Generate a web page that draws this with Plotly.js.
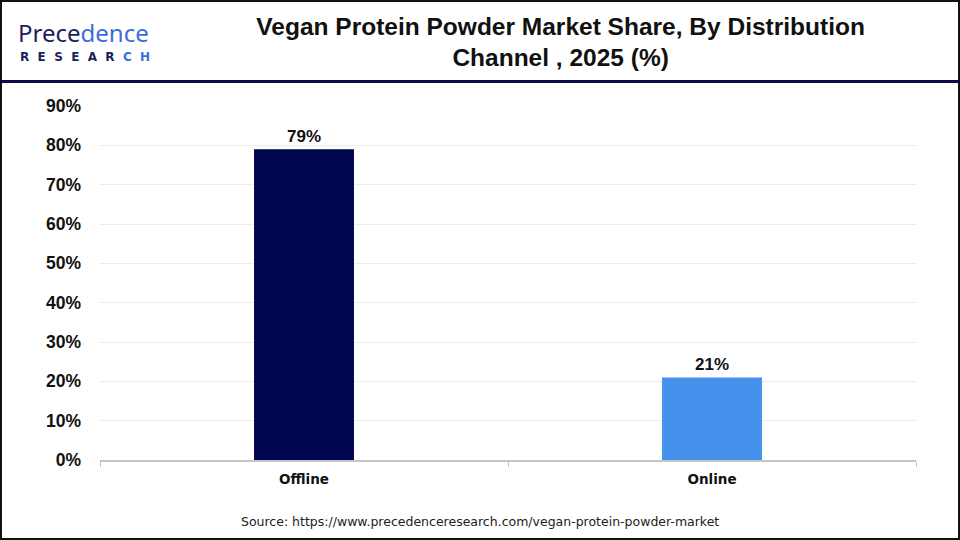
<!DOCTYPE html>
<html>
<head>
<meta charset="utf-8">
<script src="https://cdn.plot.ly/plotly-3.0.1.min.js"></script>
<style>
  body { margin: 0; background: #fff; }
  #wrap { position: relative; width: 960px; height: 540px; }
  #chart { width: 960px; height: 540px; }
  #frame { position: absolute; left: 0; top: 0; width: 956px; height: 536px;
           border: 2px solid #111; pointer-events: none; }
  #rule { position: absolute; left: 0; top: 80px; width: 960px; height: 3px;
          background: #0b0b45; pointer-events: none; }
</style>
</head>
<body>
<div id="wrap">
  <div id="chart"></div>
  <div id="rule"></div>
  <div id="frame"></div>
</div>
<script>
const channels = ["Offline", "Online"];
const shares = [79, 21];
const barColors = ["#000650", "#4592ec"];
const yTicks = [0, 10, 20, 30, 40, 50, 60, 70, 80, 90];

const NAVY = "#1b1f5e";
const BLUE = "#3a6fd6";
const gap = "\u00A0\u00A0";

const data = [
  {
    type: "bar",
    x: channels,
    y: shares,
    marker: { color: barColors },
    text: shares.map((v) => v + "%"),
    textposition: "outside",
    cliponaxis: false,
    textfont: { family: "Liberation Sans, Arial, sans-serif", size: 17, color: "#111", weight: "bold" },
    hoverinfo: "skip",
  },
];

const layout = {
  width: 960,
  height: 540,
  margin: { l: 100, r: 44, t: 106, b: 80 },
  paper_bgcolor: "#fff",
  plot_bgcolor: "#fff",
  bargap: 0.755,
  showlegend: false,
  title: {
    text: "Vegan Protein Powder Market Share, By Distribution<br>Channel , 2025 (%)",
    xref: "container",
    yref: "container",
    x: 0.584,
    y: 0.936,
    xanchor: "center",
    yanchor: "middle",
    font: { family: "Liberation Sans, Arial, sans-serif", size: 24.5, color: "#111", weight: "bold" },
  },
  xaxis: {
    type: "category",
    showline: true,
    linecolor: "#c4c4c4",
    linewidth: 2,
    ticks: "outside",
    tickson: "boundaries",
    ticklen: 5,
    tickcolor: "#c4c4c4",
    tickwidth: 1,
    showgrid: false,
    ticklabelstandoff: 6,
    tickfont: { family: "DejaVu Sans, Liberation Sans, sans-serif", size: 13.5, color: "#111", weight: "bold" },
  },
  yaxis: {
    range: [0, 90],
    tickvals: yTicks,
    ticktext: yTicks.map((v) => v + "%"),
    showgrid: true,
    gridcolor: "#ececec",
    gridwidth: 1,
    zeroline: false,
    showline: false,
    ticks: "",
    ticklabelstandoff: 18,
    tickfont: { family: "Liberation Sans, Arial, sans-serif", size: 17.5, color: "#111", weight: "bold" },
  },
  annotations: [
    {
      text: "Source: https://www.precedenceresearch.com/vegan-protein-powder-market",
      xref: "paper", yref: "paper",
      x: (480 - 100) / 816, y: (460 - 521) / 354,
      xanchor: "center", yanchor: "middle",
      showarrow: false,
      font: { family: "DejaVu Sans, sans-serif", size: 12.5, color: "#222" },
    },
    {
      text: "<span style='color:" + NAVY + "'>Prece</span><span style='color:" + BLUE + "'>dence</span>",
      xref: "paper", yref: "paper",
      x: (17 - 100) / 816, y: (460 - 33) / 354,
      xanchor: "left", yanchor: "middle",
      showarrow: false,
      borderpad: 0,
      font: { family: "Noto Sans, DejaVu Sans, sans-serif", size: 24, color: NAVY },
    },
    {
      text: "<span style='color:" + NAVY + "'>" + ["R", "E", "S", "E", "A", "R"].join(gap) + gap +
        "</span><span style='color:" + BLUE + "'>C" + gap + "H</span>",
      xref: "paper", yref: "paper",
      x: (19 - 100) / 816, y: (460 - 57) / 354,
      xanchor: "left", yanchor: "middle",
      showarrow: false,
      borderpad: 0,
      font: { family: "DejaVu Sans, sans-serif", size: 12, color: NAVY, weight: "bold" },
    },
  ],
};

Plotly.newPlot("chart", data, layout, { displayModeBar: false, staticPlot: true });
</script>
</body>
</html>
